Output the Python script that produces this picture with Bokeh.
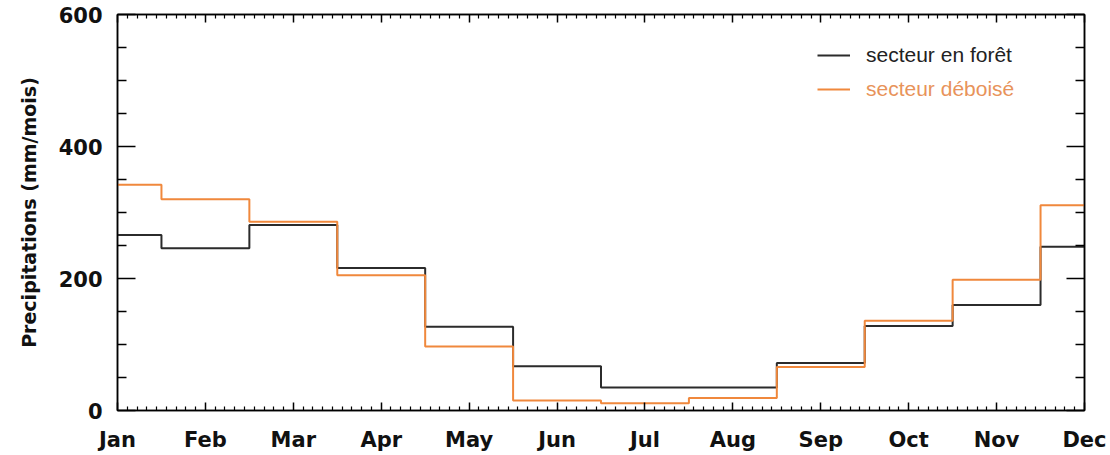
from bokeh.plotting import figure
from bokeh.models import (Range1d, FixedTicker, LinearAxis, Legend, LegendItem)
from bokeh.embed import file_html
from bokeh.resources import INLINE

months = ["Jan", "Feb", "Mar", "Apr", "May", "Jun", "Jul", "Aug", "Sep", "Oct", "Nov", "Dec"]
month_idx = list(range(12))
foret = [266, 246, 281, 216, 127, 67, 35, 35, 72, 128, 160, 248]
deboise = [342, 320, 286, 205, 97, 15, 11, 19, 66, 136, 198, 311]
y_major = [0, 200, 400, 600]
y_minor = [50, 100, 150, 250, 300, 350, 450, 500, 550]

BLACK = "#2b2b2b"
ORANGE = "#f0883c"
FONT = "DejaVu Sans"

p = figure(frame_width=967, frame_height=396, output_backend="svg", toolbar_location=None,
           x_range=Range1d(0, 11), y_range=Range1d(0, 600),
           min_border_left=117, min_border_top=14, min_border_right=24, min_border_bottom=38)
p.xgrid.visible = False
p.ygrid.visible = False
p.outline_line_color = "black"
p.outline_line_width = 1.5
p.background_fill_color = "white"
p.border_fill_color = "white"

x_minor = [i / 9 for i in range(0, 100) if i % 9 != 0]
xt = FixedTicker(ticks=month_idx, minor_ticks=x_minor)
yt = FixedTicker(ticks=y_major, minor_ticks=y_minor)

def style_x(ax):
    ax.ticker = xt
    ax.axis_line_color = "black"
    ax.axis_line_width = 1.5
    ax.major_tick_in = 8
    ax.major_tick_out = 0
    ax.minor_tick_in = 4
    ax.minor_tick_out = 0
    ax.major_tick_line_color = "black"
    ax.minor_tick_line_color = "black"
    ax.major_tick_line_width = 1.5
    ax.minor_tick_line_width = 1.2

def style_y(ax):
    ax.ticker = yt
    ax.axis_line_color = "black"
    ax.axis_line_width = 1.5
    ax.major_tick_in = 18
    ax.major_tick_out = 0
    ax.minor_tick_in = 9
    ax.minor_tick_out = 0
    ax.major_tick_line_color = "black"
    ax.minor_tick_line_color = "black"
    ax.major_tick_line_width = 1.5
    ax.minor_tick_line_width = 1.5

style_x(p.xaxis[0])
p.xaxis[0].major_label_overrides = {i: m for i, m in zip(month_idx, months)}
p.xaxis[0].major_label_text_font = FONT
p.xaxis[0].major_label_text_font_style = "bold"
p.xaxis[0].major_label_text_font_size = "21px"
p.xaxis[0].major_label_text_color = "#111111"
p.xaxis[0].major_label_standoff = 17

style_y(p.yaxis[0])
p.yaxis[0].major_label_text_font = FONT
p.yaxis[0].major_label_text_font_style = "bold"
p.yaxis[0].major_label_text_font_size = "21px"
p.yaxis[0].major_label_text_color = "#111111"
p.yaxis[0].major_label_standoff = 15
p.yaxis[0].axis_label = "Precipitations (mm/mois)"
p.yaxis[0].axis_label_text_font = FONT
p.yaxis[0].axis_label_text_font_style = "bold"
p.yaxis[0].axis_label_text_font_size = "19px"
p.yaxis[0].axis_label_text_color = "#111111"
p.yaxis[0].axis_label_standoff = 16

top = LinearAxis()
style_x(top)
top.major_label_overrides = {i: "" for i in month_idx}
top.major_label_standoff = 0
p.add_layout(top, "above")

right = LinearAxis()
style_y(right)
right.major_label_overrides = {v: "" for v in y_major}
right.major_label_standoff = 0
p.add_layout(right, "right")

r1 = p.step(month_idx, foret, mode="center", line_color=BLACK, line_width=2)
r2 = p.step(month_idx, deboise, mode="center", line_color=ORANGE, line_width=2)

def mk_legend(label, rend, color, loc):
    return Legend(items=[LegendItem(label=label, renderers=[rend])], location=loc,
                  label_text_color=color, label_text_font="Liberation Sans",
                  label_text_font_size="21px", background_fill_alpha=0,
                  border_line_alpha=0, padding=0, margin=0, glyph_width=33,
                  label_standoff=16, label_height=24, glyph_height=24)

p.add_layout(mk_legend("secteur en forêt", r1, "#222222", (700, 343)))
p.add_layout(mk_legend("secteur déboisé", r2, "#e8935a", (700, 309)))

open("out.html", "w").write(file_html(p, INLINE))
